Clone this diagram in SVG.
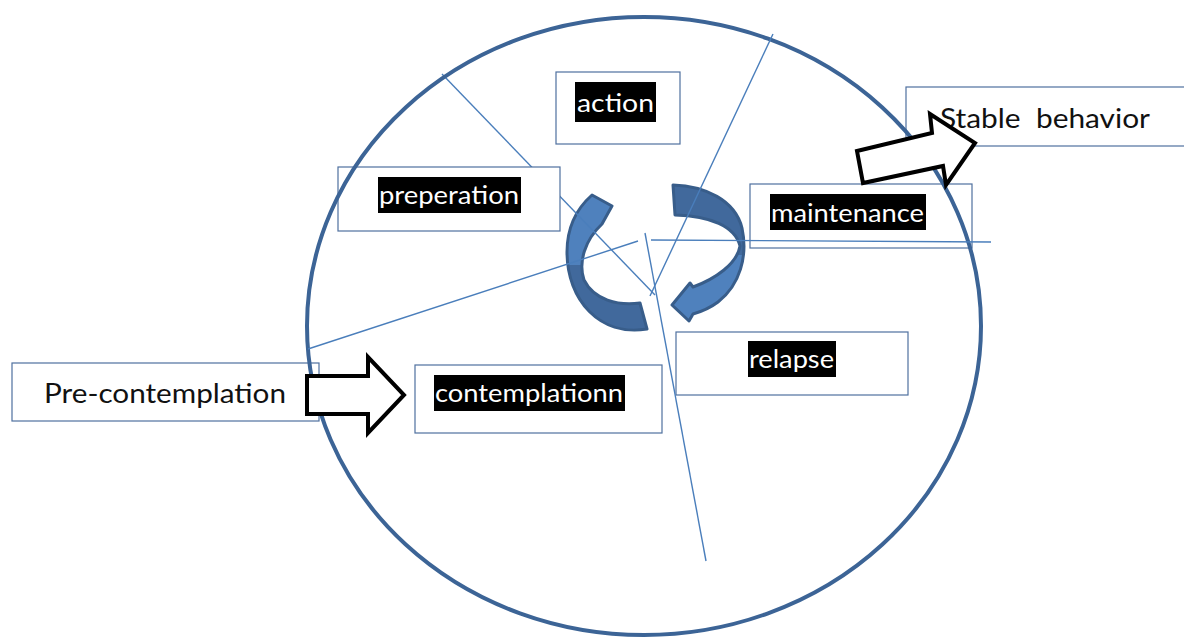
<svg xmlns="http://www.w3.org/2000/svg" width="1184" height="637" viewBox="0 0 1184 637">
  <style>
    .box { fill: #ffffff; stroke: #4f709f; stroke-width: 1.2; }
    .lbl-bg { fill: #000000; }
    .lbl { fill: #ffffff; font-family: Lato, "Open Sans", "Liberation Sans", sans-serif; font-size: 25px; }
    .plain { fill: #111111; font-family: Lato, "Open Sans", "Liberation Sans", sans-serif; font-size: 26px; }
    .divider { stroke: #4a7ebb; stroke-width: 1.4; fill: none; }
    .ring { fill: none; stroke: #3c6496; stroke-width: 4; }
    .block-arrow { fill: #ffffff; stroke: #000000; stroke-width: 4; stroke-linejoin: miter; }
    .cycle { stroke: #385d8a; stroke-width: 3; stroke-linejoin: round; }
  </style>
  <defs>
    <linearGradient id="leftTone" gradientUnits="userSpaceOnUse" x1="0" y1="190" x2="0" y2="335">
      <stop offset="0" stop-color="#4f81bd"/>
      <stop offset="0.52" stop-color="#4f81bd"/>
      <stop offset="0.52" stop-color="#41699c"/>
      <stop offset="1" stop-color="#41699c"/>
    </linearGradient>
    <linearGradient id="rightTone" gradientUnits="userSpaceOnUse" x1="0" y1="185" x2="0" y2="325">
      <stop offset="0" stop-color="#41699c"/>
      <stop offset="0.5" stop-color="#41699c"/>
      <stop offset="0.5" stop-color="#4f81bd"/>
      <stop offset="1" stop-color="#4f81bd"/>
    </linearGradient>
  </defs>

  <!-- cycle arrows in the centre -->
  <g id="cycle-arrows">
    <path class="cycle" fill="url(#leftTone)" d="M 647,329 C 600,337 567,300 567,252 C 567,230 575,210 592,195 L 612,206 L 602,224 C 585,240 578,262 584,280 C 594,300 618,306 640,303 Z"/>
    <path class="cycle" fill="url(#rightTone)" d="M 673,185 C 705,186 735,200 742,228 C 748,256 740,285 718,302 C 710,308 700,312 693,314 L 689,321 L 672,305 L 690,283 L 693,287 C 715,279 737,264 740,246 C 735,226 710,216 675,215 Z"/>
  </g>

  <!-- divider hidden behind the preperation box -->
  <g id="connectors-under">
    <line class="divider" x1="442" y1="74" x2="655" y2="295"/>
  </g>

  <!-- stage boxes -->
  <g id="node-action">
    <rect class="box" x="556" y="72" width="124" height="72"/>
  </g>
  <g id="node-preperation">
    <rect class="box" x="338" y="167" width="222" height="64"/>
  </g>
  <g id="node-maintenance">
    <rect class="box" x="750" y="184" width="222" height="64"/>
  </g>
  <g id="node-contemplationn">
    <rect class="box" x="415" y="365" width="247" height="68"/>
  </g>
  <g id="node-relapse">
    <rect class="box" x="676" y="332" width="232" height="63"/>
  </g>
  <g id="node-pre-contemplation">
    <rect class="box" x="12" y="363" width="307" height="58"/>
  </g>
  <g id="node-stable-behavior">
    <rect class="box" x="906" y="87" width="290" height="59"/>
  </g>

  <!-- outer cycle ring -->
  <ellipse class="ring" cx="644" cy="326" rx="337" ry="309"/>

  <!-- dividers -->
  <g id="connectors">
    <line class="divider" x1="773" y1="34" x2="650" y2="296"/>
    <line class="divider" x1="308" y1="349" x2="638" y2="241"/>
    <line class="divider" x1="651" y1="240" x2="991" y2="242"/>
    <line class="divider" x1="645" y1="233" x2="706" y2="561"/>
  </g>

  <!-- labels -->
  <g id="labels">
    <rect class="lbl-bg" x="575" y="82" width="81" height="40"/>
    <text class="lbl" x="577" y="112" textLength="77" lengthAdjust="spacingAndGlyphs">action</text>

    <rect class="lbl-bg" x="378" y="177" width="143" height="36"/>
    <text class="lbl" x="379" y="204" textLength="140" lengthAdjust="spacingAndGlyphs">preperation</text>

    <rect class="lbl-bg" x="770" y="194" width="156" height="36"/>
    <text class="lbl" x="771" y="222" textLength="153" lengthAdjust="spacingAndGlyphs">maintenance</text>

    <rect class="lbl-bg" x="434" y="375" width="191" height="36"/>
    <text class="lbl" x="435" y="402" textLength="188" lengthAdjust="spacingAndGlyphs">contemplationn</text>

    <rect class="lbl-bg" x="748" y="341" width="88" height="36"/>
    <text class="lbl" x="749" y="368" textLength="85" lengthAdjust="spacingAndGlyphs">relapse</text>

    <text class="plain" x="44" y="403" textLength="242" lengthAdjust="spacingAndGlyphs">Pre-contemplation</text>
    <text class="plain" x="940" y="128" textLength="210" lengthAdjust="spacingAndGlyphs" xml:space="preserve">Stable  behavior</text>
  </g>

  <!-- block arrows -->
  <g id="block-arrows">
    <polygon class="block-arrow" points="307,376 368,376 368,357 404,395 368,433 368,414 307,414"/>
    <polygon class="block-arrow" points="857,151 932,133 930,114 975,143 946,185 943,166 863,183"/>
  </g>
</svg>
